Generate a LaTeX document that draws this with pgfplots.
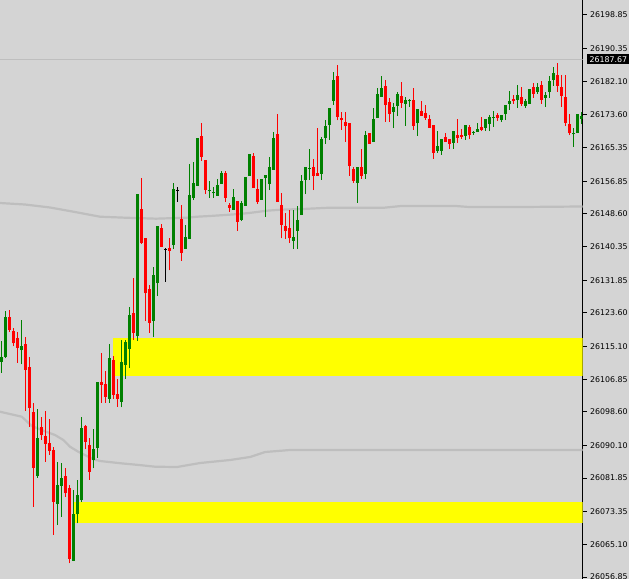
\documentclass[border=0pt]{standalone}
\usepackage{pgfplots}
\usepackage{pgfplotstable}
\pgfplotsset{compat=1.18}
\usepackage{fontspec}
\setmainfont{DejaVu Sans}
\definecolor{bg}{RGB}{212,212,212}
\definecolor{ma}{RGB}{190,190,190}
\definecolor{bull}{RGB}{0,128,0}
\definecolor{bear}{RGB}{255,0,0}
\definecolor{zone}{RGB}{255,255,0}
% bullish candles: index open high low close
\pgfplotstableread{
k o h l c
0 26111.3 26116.5 26108.5 26112.4
1 26112.4 26124.1 26112.1 26122.5
5 26114.2 26121.8 26110.6 26115.2
9 26082.5 26099.3 26082.0 26091.9
14 26075.3 26086.0 26070.0 26080.1
15 26079.9 26085.6 26072.1 26081.8
18 26061.0 26078.8 26060.9 26072.8
19 26072.7 26081.4 26070.4 26077.6
20 26076.3 26097.2 26075.8 26094.5
23 26086.4 26094.3 26084.3 26089.2
24 26089.4 26106.1 26086.9 26106.1
27 26101.9 26115.7 26100.9 26112.2
30 26101.2 26116.7 26099.7 26111.1
31 26110.5 26116.7 26107.0 26116.2
32 26114.5 26125.2 26109.7 26123.1
34 26117.8 26153.6 26116.6 26153.6
38 26121.6 26135.3 26117.6 26133.2
39 26131.1 26145.5 26127.9 26145.5
43 26140.7 26156.4 26139.7 26154.9
46 26139.8 26145.8 26139.8 26142.8
47 26142.2 26161.2 26142.2 26153.4
48 26152.7 26161.7 26152.1 26156.4
49 26155.7 26167.8 26155.7 26167.8
52 26154.3 26156.9 26152.7 26154.6
53 26153.8 26155.4 26152.7 26154.1
54 26153.2 26157.4 26153.2 26155.9
55 26156.2 26159.4 26156.2 26158.9
58 26149.7 26154.9 26149.7 26152.8
60 26147.1 26151.9 26146.8 26151.4
61 26150.7 26157.9 26150.7 26157.9
62 26158.3 26163.7 26158.3 26163.7
65 26152.2 26157.4 26152.2 26157.4
66 26157.7 26158.4 26147.9 26158.4
67 26156.2 26163.0 26154.6 26160.5
68 26159.7 26169.3 26159.7 26167.8
73 26141.8 26149.6 26139.7 26142.8
74 26144.4 26150.6 26139.7 26147.1
75 26148.3 26158.4 26148.3 26156.9
76 26157.2 26160.5 26153.6 26160.5
77 26159.9 26165.0 26157.2 26160.2
80 26158.7 26168.0 26157.2 26167.5
81 26167.8 26172.3 26166.3 26170.8
82 26171.1 26175.4 26167.3 26175.4
83 26177.2 26184.5 26176.1 26182.4
89 26156.5 26160.5 26151.4 26160.5
91 26158.7 26169.5 26157.5 26168.5
93 26166.8 26175.4 26166.8 26172.6
94 26172.8 26180.4 26172.8 26178.9
95 26178.2 26183.4 26178.2 26180.4
98 26174.3 26176.5 26170.3 26175.6
99 26175.9 26179.4 26173.3 26178.9
101 26176.4 26178.2 26170.9 26177.4
102 26177.0 26177.6 26175.6 26177.3
104 26171.5 26175.1 26168.4 26175.1
109 26164.6 26169.5 26164.1 26165.8
110 26164.6 26167.5 26163.6 26167.5
113 26166.6 26169.5 26165.1 26169.5
116 26168.3 26171.1 26167.3 26171.1
118 26169.1 26169.6 26168.6 26169.4
119 26169.4 26171.6 26169.4 26170.1
121 26170.4 26172.6 26169.5 26172.6
122 26171.3 26173.6 26169.5 26173.1
123 26172.9 26174.6 26170.6 26173.2
125 26172.3 26173.6 26171.8 26173.6
126 26173.8 26176.1 26172.3 26176.1
127 26176.4 26179.7 26174.9 26177.1
129 26177.4 26181.2 26175.4 26178.6
131 26175.9 26177.6 26175.4 26177.1
132 26176.4 26180.2 26176.4 26180.2
134 26179.4 26181.7 26179.0 26180.7
136 26178.0 26179.5 26175.7 26178.6
137 26179.4 26183.4 26178.0 26182.2
138 26182.5 26185.7 26181.0 26184.2
143 26168.7 26170.3 26165.6 26169.0
144 26169.0 26173.8 26169.0 26173.8
145 26172.6 26174.3 26171.3 26173.3
}\up
% bearish candles
\pgfplotstableread{
k o h l c
2 26122.5 26124.3 26118.8 26119.3
3 26119.0 26119.8 26115.1 26115.9
4 26117.2 26118.7 26111.0 26114.8
6 26115.7 26117.6 26098.9 26109.2
7 26109.9 26112.5 26094.8 26099.6
8 26098.6 26100.8 26074.6 26084.5
10 26094.8 26097.4 26091.5 26092.7
11 26092.5 26098.8 26086.0 26090.5
12 26090.6 26096.8 26087.7 26088.8
13 26089.0 26089.7 26067.5 26075.9
16 26082.4 26084.3 26077.2 26078.0
17 26079.3 26080.1 26060.3 26061.5
21 26095.0 26095.3 26089.1 26091.0
22 26090.2 26091.9 26081.4 26083.5
25 26106.1 26113.5 26100.9 26105.4
26 26105.6 26109.0 26100.9 26102.4
28 26111.7 26112.7 26101.8 26102.8
29 26103.1 26107.0 26099.9 26101.8
33 26123.6 26132.4 26116.7 26118.6
35 26149.8 26157.7 26141.0 26141.2
36 26142.5 26142.5 26121.6 26128.5
37 26129.6 26130.7 26118.6 26121.1
40 26145.0 26146.1 26140.2 26140.3
42 26140.0 26142.5 26134.3 26139.3
45 26147.3 26150.9 26136.8 26138.8
50 26168.3 26171.5 26162.0 26163.1
51 26162.2 26162.2 26153.6 26154.6
56 26158.9 26159.4 26151.7 26152.7
57 26150.9 26151.4 26149.2 26150.2
59 26151.9 26151.9 26144.4 26146.6
63 26163.2 26163.9 26155.2 26155.2
64 26154.9 26157.4 26151.2 26151.7
69 26168.8 26173.8 26151.7 26151.7
70 26150.9 26153.8 26142.4 26145.8
71 26145.5 26148.8 26142.2 26144.4
72 26145.0 26149.6 26141.2 26142.4
78 26160.5 26162.5 26154.6 26158.2
79 26158.9 26170.3 26158.2 26158.2
84 26183.4 26186.2 26172.2 26173.2
85 26172.8 26174.3 26169.8 26172.2
86 26171.8 26174.3 26166.8 26170.9
87 26171.6 26171.6 26158.2 26160.7
88 26159.9 26160.5 26156.5 26157.0
90 26160.5 26165.0 26157.5 26158.2
92 26169.0 26169.0 26166.3 26166.3
96 26180.9 26182.4 26171.9 26176.1
97 26176.9 26177.9 26171.9 26173.8
100 26178.4 26181.9 26175.4 26176.7
103 26177.4 26180.4 26169.8 26170.9
105 26174.6 26177.1 26173.4 26173.4
106 26174.1 26176.1 26172.4 26172.9
107 26172.6 26173.6 26170.4 26170.4
108 26171.1 26171.1 26162.5 26164.1
111 26168.0 26169.0 26166.8 26166.8
112 26167.5 26167.5 26165.1 26166.2
114 26168.5 26172.6 26166.6 26167.9
115 26168.5 26170.1 26167.5 26168.0
117 26170.6 26171.1 26167.5 26168.5
120 26170.6 26173.1 26169.5 26169.8
124 26173.6 26174.1 26172.1 26172.8
128 26177.6 26178.6 26176.4 26177.0
130 26178.1 26180.7 26175.9 26176.4
133 26180.7 26181.7 26178.0 26179.0
135 26181.2 26182.2 26176.4 26177.5
139 26183.7 26186.7 26179.5 26181.0
140 26180.7 26183.7 26175.7 26178.5
141 26178.1 26183.7 26170.8 26171.6
142 26171.3 26173.8 26168.5 26169.0
}\dn
% doji candles (open = close)
\pgfplotstableread{
k o h l c
41 26139.5 26140.0 26131.4 26139.5
44 26154.4 26155.4 26151.7 26154.4
}\dj
\pgfplotsset{
  wick/.style={draw=none, no markers, forget plot, error bars/.cd, y dir=plus, y explicit, error mark=none,
    error bar style={draw=#1, solid, line width=1bp}},
  body/.style={draw=none, no markers, forget plot, error bars/.cd, y dir=plus, y explicit, error mark=none,
    error bar style={draw=#1, solid, line width=3bp, line cap=butt}},
}
\begin{document}
\begin{tikzpicture}
\path[use as bounding box] (0,0) rectangle (629bp,579bp);
\clip (0,0) rectangle (629bp,579bp);
\fill[bg] (0,0) rectangle (629bp,579bp);
\begin{axis}[
  at={(0,0)}, anchor=south west,
  width=582.5bp, height=579bp, scale only axis,
  xmin=-0.25, xmax=145.375, ymin=26056.36, ymax=26202.64,
  axis x line=none, axis y line*=right,
  xtick=\empty,
  ytick={26198.85,26190.35,26182.10,26173.60,26165.35,26156.85,26148.60,26140.35,26131.85,26123.60,26115.10,26106.85,26098.60,26090.10,26081.85,26073.35,26065.10,26056.85},
  yticklabels={26198.85,26190.35,26182.10,26173.60,26165.35,26156.85,26148.60,26140.35,26131.85,26123.60,26115.10,26106.85,26098.60,26090.10,26081.85,26073.35,26065.10,26056.85},
  scaled y ticks=false,
  tick align=outside, major tick length=4bp,
  y axis line style={black, line width=1bp},
  ytick style={black, line width=1bp},
  yticklabel style={font=\fontsize{7.9}{9}\selectfont, anchor=west, black},
  /pgf/number format/assume math mode=true,
  clip mode=individual,
]
% supply / demand zones
\addplot[draw=none, fill=zone, forget plot] coordinates {(28,26107.7) (145.375,26107.7) (145.375,26117.2) (28,26117.2)} -- cycle;
\addplot[draw=none, fill=zone, forget plot] coordinates {(18.25,26070.6) (145.375,26070.6) (145.375,26075.9) (18.25,26075.9)} -- cycle;
% moving averages
\addplot[ma, line width=2.2bp, mark=none] coordinates {
(-0.25,26151.35) (6,26150.97) (12.25,26150.22) (18.5,26149.08) (24.75,26147.89) (31,26147.64) (38.75,26147.39) (46.5,26147.64) (49,26147.89) (52.25,26148.07) (56,26148.32) (59.5,26148.57) (62,26148.83) (64,26149.08) (66.5,26149.41) (70,26149.66) (75.5,26149.84) (82,26150.16) (95.75,26150.16) (100,26150.59) (113.75,26150.59) (117,26150.34) (130,26150.34) (145.375,26150.47)};
\addplot[ma, line width=2.2bp, mark=none] coordinates {
(-0.25,26098.62) (5.2,26097.36) (7.7,26095.01) (10.6,26093.82) (13.5,26092.74) (15.6,26091.47) (17.25,26089.78) (19.3,26088.52) (21,26087.68) (23.1,26086.6) (24.75,26086.17) (30,26085.59) (34.5,26085.16) (38.5,26084.73) (44,26084.65) (49.75,26085.66) (57.25,26086.42) (62.25,26087.18) (66,26088.44) (72.25,26088.95) (145.375,26088.95)};
% price line
\addplot[ma, line width=1bp, mark=none] coordinates {(-0.25,26187.67) (145.375,26187.67)};
% wicks
\addplot[wick=bull] table[x=k, y=l, y error plus expr=\thisrow{h}-\thisrow{l}] {\up};
\addplot[wick=bear] table[x=k, y=l, y error plus expr=\thisrow{h}-\thisrow{l}] {\dn};
\addplot[wick=black] table[x=k, y=l, y error plus expr=\thisrow{h}-\thisrow{l}] {\dj};
% bodies
\addplot[body=bull] table[x=k, y=o, y error plus expr=\thisrow{c}-\thisrow{o}] {\up};
\addplot[body=bear] table[x=k, y=c, y error plus expr=\thisrow{o}-\thisrow{c}] {\dn};
\addplot[body=black] table[x=k, y=o, y error plus expr=0.3] {\dj};
\node[fill=black, text=white, anchor=west, inner xsep=2.5bp, inner ysep=1.8bp, xshift=4.5bp, font=\fontsize{7.9}{9}\selectfont] at (axis cs:145.375,26187.67) {26187.67};
\end{axis}
\end{tikzpicture}
\end{document}
